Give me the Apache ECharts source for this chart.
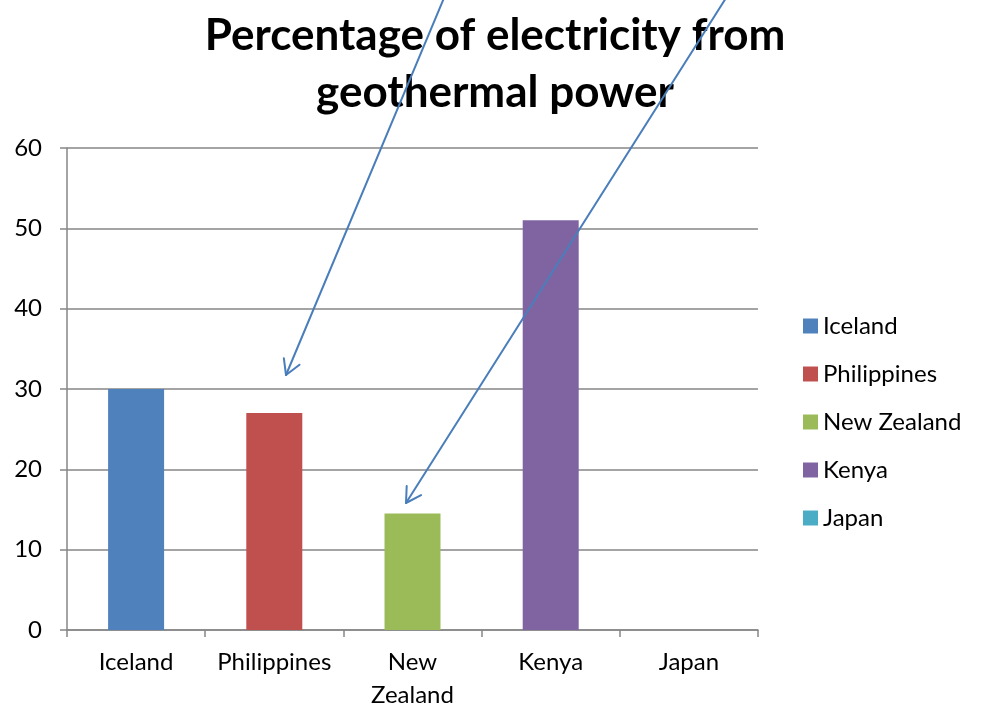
<!DOCTYPE html>
<html>
<head>
<meta charset="utf-8">
<script src="https://cdn.jsdelivr.net/npm/echarts@6/dist/echarts.min.js"></script>
<style>
  html, body { margin: 0; padding: 0; background: #fff; }
  #chart { width: 981px; height: 707px; }
</style>
</head>
<body>
<div id="chart"></div>
<script>
// Share of national electricity generated from geothermal sources (%)
const countries = ['Iceland', 'Philippines', 'New Zealand', 'Kenya', 'Japan'];
const geothermalShare = [30, 27, 14.5, 51, 0];
const countryColors = ['#4f81bd', '#c0504d', '#9bbb59', '#8064a2', '#4bacc6'];
const axisLabels = ['Iceland', 'Philippines', 'New\nZealand', 'Kenya', 'Japan'];
const yTicks = { min: 0, max: 60, interval: 10 };

const FONT = 'Lato';
const chart = echarts.init(document.getElementById('chart'), null, { renderer: 'canvas' });

// One series per country so every country gets its own legend entry;
// stacking keeps each single bar centred on its category.
const series = countries.map((name, i) => ({
  name: name,
  type: 'bar',
  stack: 'share',
  barWidth: 56,
  itemStyle: { color: countryColors[i] },
  data: countries.map((_, j) => (j === i ? geothermalShare[i] : '-'))
}));

chart.setOption({
  animation: false,
  backgroundColor: '#ffffff',
  title: {
    text: 'Percentage of electricity from\ngeothermal power',
    left: 490,
    top: 2,
    textAlign: 'center',
    textStyle: {
      fontFamily: FONT,
      fontWeight: 'bold',
      fontSize: 44,
      lineHeight: 57,
      color: '#000'
    }
  },
  legend: {
    orient: 'vertical',
    left: 798,
    top: 309,
    itemWidth: 15,
    itemHeight: 15,
    itemGap: 24,
    icon: 'rect',
    textStyle: { fontFamily: FONT, fontSize: 24, lineHeight: 24, color: '#000' },
    data: countries
  },
  grid: { left: 67, right: 223, top: 148, bottom: 77, containLabel: false, outerBoundsMode: 'none' },
  xAxis: {
    type: 'category',
    data: axisLabels,
    axisLine: { lineStyle: { color: '#868686', width: 1.5 } },
    axisTick: { show: true, alignWithLabel: false, length: 7, lineStyle: { color: '#868686', width: 1.5 } },
    axisLabel: { fontFamily: FONT, fontSize: 24, color: '#000', margin: 16, lineHeight: 33, interval: 0 }
  },
  yAxis: {
    type: 'value',
    min: yTicks.min,
    max: yTicks.max,
    interval: yTicks.interval,
    axisLine: { show: true, lineStyle: { color: '#868686', width: 1.5 } },
    axisTick: { show: true, length: 7, lineStyle: { color: '#868686', width: 1.5 } },
    axisLabel: { fontFamily: FONT, fontSize: 24, color: '#000', margin: 25 },
    splitLine: { lineStyle: { color: '#868686', width: 1.5 } }
  },
  series: series
});

// Two annotation arrows coming in from above the title and pointing at bars.
function arrow(x1, y1, x2, y2) {
  const ang = Math.atan2(y2 - y1, x2 - x1);
  const len = 17, spread = Math.PI / 6;
  const a1 = [x2 - len * Math.cos(ang - spread), y2 - len * Math.sin(ang - spread)];
  const a2 = [x2 - len * Math.cos(ang + spread), y2 - len * Math.sin(ang + spread)];
  const style = { stroke: '#4a7ebb', lineWidth: 2, fill: null, lineCap: 'round', lineJoin: 'round' };
  return [
    { type: 'line', shape: { x1: x1, y1: y1, x2: x2, y2: y2 }, style: style, z: 100 },
    { type: 'polyline', shape: { points: [a1, [x2, y2], a2] }, style: style, z: 100 }
  ];
}

chart.setOption({
  graphic: [].concat(
    arrow(444, -2, 286, 375),
    arrow(726, -2, 406, 503)
  )
});
</script>
</body>
</html>
